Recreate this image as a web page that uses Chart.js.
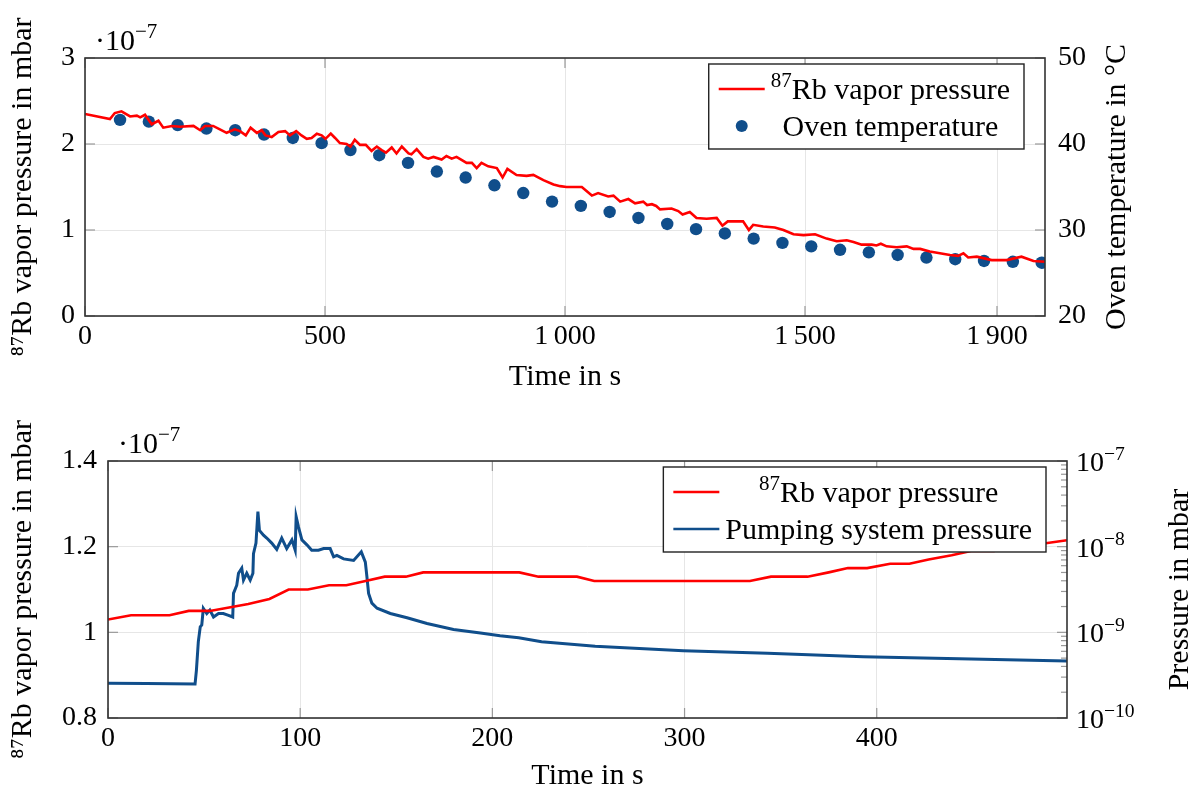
<!DOCTYPE html>
<html>
<head>
<meta charset="utf-8">
<script src="https://cdn.jsdelivr.net/npm/chart.js@4.4.0/dist/chart.umd.min.js"></script>
<style>
  html, body { margin: 0; padding: 0; background: #fff; }
  #wrap { position: relative; width: 1197px; height: 794px; }
  canvas { position: absolute; left: 0; }
  #graficoTop { top: 0; }
  #graficoBottom { top: 395px; }
</style>
</head>
<body>
<div id="wrap">
  <canvas id="graficoTop" width="1197" height="395"></canvas>
  <canvas id="graficoBottom" width="1197" height="399"></canvas>
</div>
<script>
//TOP DATA (pressure in 1e-7 mbar, time in s)
const topTime = [0, 52, 62, 76, 94, 108, 115, 125, 139, 153, 163, 181, 198, 226, 240, 250, 267, 281, 295, 312,
  323, 335, 345, 358, 368, 376, 389, 403, 417, 427, 440, 451, 462, 472, 483, 493, 501, 512, 521, 531,
  545, 553, 562, 573, 585, 597, 608, 618, 627, 639, 649, 660, 674, 680, 691, 705, 715, 726, 743, 753,
  764, 774, 795, 806, 816, 826, 840, 858, 870, 880, 899, 920, 934, 955, 976, 990, 1003, 1017, 1035, 1056,
  1069, 1090, 1101, 1115, 1132, 1146, 1163, 1171, 1181, 1190, 1198, 1222, 1236, 1245, 1260, 1274, 1295, 1316, 1328, 1339,
  1371, 1383, 1392, 1413, 1437, 1455, 1476, 1497, 1521, 1545, 1566, 1587, 1601, 1618, 1639, 1649, 1658, 1670, 1691, 1712,
  1726, 1740, 1760, 1781, 1802, 1819, 1830, 1840, 1858, 1889, 1920, 1951, 1976, 2000];
const topRb = [2.35, 2.29, 2.36, 2.38, 2.32, 2.33, 2.31, 2.34, 2.23, 2.27, 2.19, 2.21, 2.20, 2.21, 2.16, 2.21, 2.21, 2.17, 2.13, 2.17,
  2.15, 2.10, 2.19, 2.13, 2.16, 2.10, 2.08, 2.14, 2.15, 2.10, 2.15, 2.10, 2.06, 2.07, 2.12, 2.10, 2.06, 2.12, 2.07, 2.01,
  2.00, 1.97, 2.05, 1.99, 1.99, 1.92, 1.97, 1.93, 1.90, 1.96, 1.89, 1.97, 1.89, 1.88, 1.94, 1.85, 1.83, 1.85, 1.82, 1.86,
  1.83, 1.85, 1.78, 1.78, 1.72, 1.78, 1.74, 1.72, 1.61, 1.71, 1.64, 1.63, 1.64, 1.58, 1.53, 1.51, 1.50, 1.50, 1.50, 1.40,
  1.43, 1.39, 1.40, 1.33, 1.36, 1.31, 1.33, 1.29, 1.30, 1.28, 1.24, 1.25, 1.22, 1.18, 1.21, 1.14, 1.13, 1.14, 1.05, 1.10,
  1.10, 1.00, 1.06, 1.04, 1.03, 1.00, 0.95, 0.94, 0.95, 0.90, 0.87, 0.88, 0.86, 0.83, 0.83, 0.82, 0.84, 0.81, 0.80, 0.81,
  0.78, 0.78, 0.75, 0.73, 0.71, 0.70, 0.73, 0.68, 0.69, 0.65, 0.65, 0.69, 0.64, 0.63];
const ovenTime = [73, 133, 193, 253, 313, 373, 433, 493, 553, 613, 673, 733, 793, 853, 913, 973, 1033,
  1093, 1153, 1213, 1273, 1333, 1393, 1453, 1513, 1573, 1633, 1693, 1753, 1813, 1873, 1933, 1993];
const ovenTemp = [42.8, 42.6, 42.2, 41.8, 41.6, 41.1, 40.7, 40.1, 39.3, 38.7, 37.8, 36.8, 36.1, 35.2, 34.3, 33.3, 32.8,
  32.1, 31.4, 30.7, 30.1, 29.6, 29.0, 28.5, 28.1, 27.7, 27.4, 27.1, 26.8, 26.6, 26.4, 26.3, 26.2];
const topTicksX = [0, 500, 1000, 1500, 1900];
const topTicksP = [0, 1, 2, 3];
const topTicksT = [20, 30, 40, 50];

//BOTTOM DATA
const botTime = [0, 12, 32, 42, 53, 73, 84, 94, 104, 115, 124, 134, 144, 155, 164, 214, 224, 244, 253, 334,
  345, 364, 375, 385, 395, 407, 417, 427, 439, 449, 461, 475, 499];
const botRb = [1.03, 1.04, 1.04, 1.05, 1.05, 1.066, 1.078, 1.10, 1.10, 1.11, 1.11, 1.12, 1.13, 1.13, 1.14, 1.14, 1.13, 1.13, 1.12, 1.12,
  1.13, 1.13, 1.14, 1.15, 1.15, 1.16, 1.16, 1.17, 1.18, 1.19, 1.19, 1.20, 1.215];
const pumpTime = [0, 20, 45.3, 46, 47, 48, 48.8, 49.6, 51.4, 53, 54.9, 57.5, 60, 62.7, 64.9, 65.3, 67, 67.9, 69.6, 70.5,
  72.2, 74, 75.4, 75.7, 77, 78, 78.8, 80.9, 82.6, 85.2, 87.8, 90.4, 93, 95.7, 97.4, 97.9, 99.1, 100.9, 103.5, 106,
  109.5, 112.2, 115.6, 117.4, 119.1, 122.6, 127.8, 131.8, 133.9, 134.7, 135.6, 137.3, 140, 146.9, 155.6, 166, 179.8, 193.8, 204, 213.7,
  225.6, 253.5, 299.4, 343.2, 393, 442.9, 499];
const pumpP = [2.55e-10, 2.52e-10, 2.50e-10, 3.6e-10, 7.8e-10, 1.16e-9, 1.22e-9, 1.91e-9, 1.66e-9, 1.82e-9, 1.51e-9, 1.66e-9, 1.66e-9, 1.58e-9, 1.51e-9, 2.85e-9, 3.55e-9, 4.9e-9, 5.62e-9, 4.07e-9,
  4.9e-9, 4.07e-9, 4.9e-9, 8.3e-9, 1.1e-8, 2.57e-8, 1.55e-8, 1.36e-8, 1.26e-8, 1.1e-8, 9.3e-9, 1.26e-8, 9.5e-9, 1.2e-8, 9.1e-9, 2.24e-8, 1.7e-8, 1.2e-8, 1.05e-8, 9.1e-9,
  9.1e-9, 9.5e-9, 9.5e-9, 7.6e-9, 7.9e-9, 7.2e-9, 6.9e-9, 8.7e-9, 6.6e-9, 4.5e-9, 2.85e-9, 2.19e-9, 1.91e-9, 1.66e-9, 1.48e-9, 1.27e-9, 1.08e-9, 9.8e-10, 9.1e-10, 8.65e-10,
  7.76e-10, 6.9e-10, 6.1e-10, 5.7e-10, 5.2e-10, 4.9e-10, 4.62e-10];
const botTicksX = [0, 100, 200, 300, 400];
const botTicksP = [0.8, 1, 1.2, 1.4];
const botTicksL = [1e-10, 1e-9, 1e-8, 1e-7];

//GENERAL
const FONT = '"Liberation Serif", "DejaVu Serif", serif';
const RED = '#ff0000';
const BLUE = '#104e8b';
const GRID = '#e6e6e6';
const tickFont = { family: FONT, size: 28 };
const textFont = { family: FONT, size: 30 };

function toXY(xs, ys) {
    return xs.map((x, i) => ({ x: x, y: ys[i] }));
}

function fmtThousands(v) {
    if (v >= 1000) return Math.floor(v / 1000) + '\u2009' + String(v % 1000).padStart(3, '0');
    return String(v);
}

function richWidth(ctx, parts, size) {
    let w = 0;
    parts.forEach(p => {
        ctx.font = (p.sup ? size * 0.7 : size) + 'px ' + FONT;
        w += ctx.measureText(p.t).width;
    });
    return w;
}

function drawRich(ctx, parts, x, y, size, align) {
    let w = richWidth(ctx, parts, size);
    let cx = align === 'center' ? x - w / 2 : (align === 'right' ? x - w : x);
    ctx.textAlign = 'left';
    ctx.textBaseline = 'alphabetic';
    ctx.fillStyle = '#000';
    parts.forEach(p => {
        ctx.font = (p.sup ? size * 0.7 : size) + 'px ' + FONT;
        ctx.fillText(p.t, cx, p.sup ? y - size * 0.4 : y);
        cx += ctx.measureText(p.t).width;
    });
}

// frame, inward ticks, legend, right title, exponent
const decor = {
    id: 'decor',
    afterDatasetsDraw(chart, args, o) {
        const ctx = chart.ctx;
        const a = chart.chartArea;
        ctx.save();
        ctx.strokeStyle = '#999';
        ctx.lineWidth = 1.2;
        const x = chart.scales.x;
        x.ticks.forEach(t => {
            const px = x.getPixelForValue(t.value);
            ctx.beginPath();
            ctx.moveTo(px, a.bottom); ctx.lineTo(px, a.bottom - 10);
            ctx.moveTo(px, a.top); ctx.lineTo(px, a.top + 10);
            ctx.stroke();
        });
        const l = chart.scales[o.left];
        l.ticks.forEach(t => {
            const py = l.getPixelForValue(t.value);
            ctx.beginPath();
            ctx.moveTo(a.left, py); ctx.lineTo(a.left + 10, py);
            ctx.stroke();
        });
        const r = chart.scales[o.right];
        r.ticks.forEach(t => {
            const py = r.getPixelForValue(t.value);
            ctx.beginPath();
            ctx.moveTo(a.right, py); ctx.lineTo(a.right - 10, py);
            ctx.stroke();
        });
        if (o.minorLog) {
            for (let d = -10; d < -7; d++) {
                for (let k = 2; k < 10; k++) {
                    const py = r.getPixelForValue(k * Math.pow(10, d));
                    ctx.beginPath();
                    ctx.moveTo(a.right, py); ctx.lineTo(a.right - 6, py);
                    ctx.stroke();
                }
            }
        }
        // frame
        ctx.strokeStyle = '#333';
        ctx.lineWidth = 1.6;
        ctx.strokeRect(a.left, a.top, a.right - a.left, a.bottom - a.top);
        ctx.restore();
    },
    afterDraw(chart, args, o) {
        const ctx = chart.ctx;
        const a = chart.chartArea;
        ctx.save();
        // exponent
        drawRich(ctx, [{ t: '·10' }, { t: '\u22127', sup: true }], a.left + 10, a.top - 8, 30, 'left');
        // log tick labels with real superscripts
        if (o.minorLog) {
            const r = chart.scales[o.right];
            r.ticks.forEach(t => {
                const py = r.getPixelForValue(t.value);
                const e = Math.round(Math.log10(t.value));
                drawRich(ctx, [{ t: '10' }, { t: '\u2212' + Math.abs(e), sup: true }], a.right + 9, py + 10, 28, 'left');
            });
        }
        // right title, reading upwards
        ctx.save();
        ctx.translate(o.rightTitleX, (a.top + a.bottom) / 2);
        ctx.rotate(-Math.PI / 2);
        drawRich(ctx, [{ t: o.rightTitle }], 0, 10, 30, 'center');
        ctx.restore();
        // legend
        const size = 30;
        let tw = 0;
        o.legend.forEach(e => { tw = Math.max(tw, richWidth(ctx, e.parts, size)); });
        const bw = 10 + 46 + 6 + tw + 14;
        const bx = a.right - 21 - bw;
        const by = a.top + 6;
        ctx.fillStyle = '#fff';
        ctx.fillRect(bx, by, bw, 85);
        ctx.strokeStyle = '#222';
        ctx.lineWidth = 1.4;
        ctx.strokeRect(bx, by, bw, 85);
        o.legend.forEach((e, i) => {
            const cy = by + 25 + i * 37;
            if (e.type === 'line') {
                ctx.strokeStyle = e.color;
                ctx.lineWidth = 2.6;
                ctx.beginPath();
                ctx.moveTo(bx + 10, cy); ctx.lineTo(bx + 56, cy);
                ctx.stroke();
            } else {
                ctx.fillStyle = e.color;
                ctx.beginPath();
                ctx.arc(bx + 33, cy, 6, 0, Math.PI * 2);
                ctx.fill();
            }
            drawRich(ctx, e.parts, bx + 62 + tw / 2, cy + 10, size, 'center');
        });
        ctx.restore();
    }
};

function axisX(min, max, ticks, height) {
    return {
        type: 'linear', min: min, max: max,
        afterBuildTicks: s => { s.ticks = ticks.map(v => ({ value: v })); },
        afterFit: s => { s.height = height; },
        grid: { color: GRID, lineWidth: 1, drawTicks: false },
        border: { display: false },
        ticks: { font: tickFont, color: '#000', padding: 4, maxRotation: 0, autoSkip: false, callback: v => fmtThousands(v) },
        title: { display: true, text: 'Time in s', font: textFont, color: '#000', padding: 0 }
    };
}

const rbParts = [{ t: '87', sup: true }, { t: 'Rb vapor pressure' }];

//TOP CHART
const graphicTop = document.getElementById('graficoTop');
const chartTop = new Chart(graphicTop, {
    type: 'line',
    data: {
        datasets: [{
            label: '87Rb vapor pressure',
            data: toXY(topTime, topRb),
            yAxisID: 'yP',
            borderColor: RED,
            borderWidth: 2.6,
            pointRadius: 0,
            tension: 0
        }, {
            label: 'Oven temperature',
            data: toXY(ovenTime, ovenTemp),
            yAxisID: 'yT',
            showLine: false,
            pointRadius: 6.2,
            pointBorderWidth: 0,
            pointBackgroundColor: BLUE,
            borderColor: BLUE
        }]
    },
    options: {
        responsive: false,
        animation: false,
        devicePixelRatio: 1,
        layout: { padding: { top: 58, left: 0, right: 0, bottom: 0 } },
        plugins: {
            legend: { display: false },
            tooltip: { enabled: false },
            decor: {
                left: 'yP', right: 'yT', rightTitleX: 1115, rightTitle: 'Oven temperature in °C',
                legend: [
                    { type: 'line', color: RED, parts: rbParts },
                    { type: 'dot', color: BLUE, parts: [{ t: 'Oven temperature' }] }
                ]
            }
        },
        scales: {
            x: axisX(0, 2000, topTicksX, 79),
            yP: {
                type: 'linear', position: 'left', min: 0, max: 3,
                afterBuildTicks: s => { s.ticks = topTicksP.map(v => ({ value: v })); },
                afterFit: s => { s.width = 85; },
                grid: { color: GRID, drawTicks: false },
                border: { display: false },
                ticks: { font: tickFont, color: '#000', padding: 10 },
                title: { display: true, text: '⁸⁷Rb vapor pressure in mbar', font: textFont, color: '#000', padding: { top: 5 } }
            },
            yT: {
                type: 'linear', position: 'right', min: 20, max: 50,
                afterBuildTicks: s => { s.ticks = topTicksT.map(v => ({ value: v })); },
                afterFit: s => { s.width = 152; },
                grid: { display: false, drawTicks: false },
                border: { display: false },
                ticks: { font: tickFont, color: '#000', padding: 13 }
            }
        }
    },
    plugins: [decor]
});

//BOTTOM CHART
const graphicBottom = document.getElementById('graficoBottom');
const chartBottom = new Chart(graphicBottom, {
    type: 'line',
    data: {
        datasets: [{
            label: '87Rb vapor pressure',
            data: toXY(botTime, botRb),
            yAxisID: 'yP',
            borderColor: RED,
            borderWidth: 2.6,
            pointRadius: 0,
            tension: 0
        }, {
            label: 'Pumping system pressure',
            data: toXY(pumpTime, pumpP),
            yAxisID: 'yL',
            borderColor: BLUE,
            borderWidth: 3,
            pointRadius: 0,
            tension: 0
        }]
    },
    options: {
        responsive: false,
        animation: false,
        devicePixelRatio: 1,
        layout: { padding: { top: 66, left: 0, right: 0, bottom: 0 } },
        plugins: {
            legend: { display: false },
            tooltip: { enabled: false },
            decor: {
                left: 'yP', right: 'yL', minorLog: true, rightTitleX: 1178, rightTitle: 'Pressure in mbar',
                legend: [
                    { type: 'line', color: RED, parts: rbParts },
                    { type: 'line', color: BLUE, parts: [{ t: 'Pumping system pressure' }] }
                ]
            }
        },
        scales: {
            x: axisX(0, 499, botTicksX, 76),
            yP: {
                type: 'linear', position: 'left', min: 0.8, max: 1.4,
                afterBuildTicks: s => { s.ticks = botTicksP.map(v => ({ value: v })); },
                afterFit: s => { s.width = 108; },
                grid: { color: GRID, drawTicks: false },
                border: { display: false },
                ticks: { font: tickFont, color: '#000', padding: 11, callback: v => String(+v.toFixed(1)) },
                title: { display: true, text: '⁸⁷Rb vapor pressure in mbar', font: textFont, color: '#000', padding: { top: 5 } }
            },
            yL: {
                type: 'logarithmic', position: 'right', min: 1e-10, max: 1e-7,
                afterBuildTicks: s => { s.ticks = botTicksL.map(v => ({ value: v })); },
                afterFit: s => { s.width = 130; },
                grid: { display: false, drawTicks: false },
                border: { display: false },
                ticks: { display: false }
            }
        }
    },
    plugins: [decor]
});
</script>
</body>
</html>
